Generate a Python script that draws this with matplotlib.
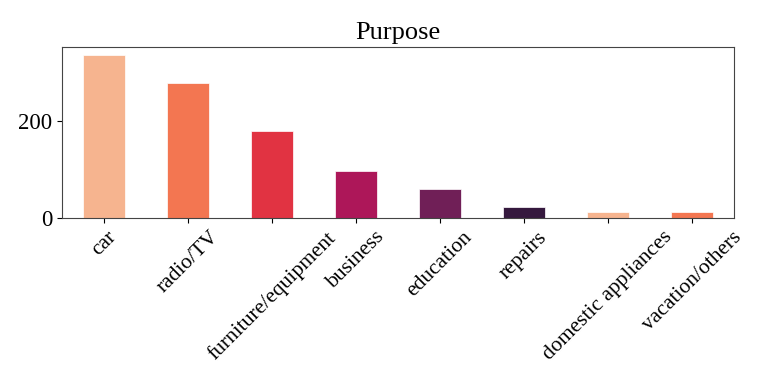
import matplotlib
matplotlib.use('Agg')
import matplotlib.pyplot as plt

categories = ['car', 'radio/TV', 'furniture/equipment', 'business', 'education',
              'repairs', 'domestic appliances', 'vacation/others']
counts = [337, 280, 181, 97, 59, 22, 12, 12]
palette = ['#f6b48f', '#f37651', '#e13342', '#ad1759', '#701f57', '#35193e']

plt.rcParams['font.family'] = ['Liberation Serif', 'DejaVu Serif']

fig = plt.figure(figsize=(7.72, 3.86), dpi=100)
ax = fig.add_axes([62 / 772, 1 - 218 / 386, (734 - 62) / 772, (218 - 47) / 386])

colors = [palette[i % len(palette)] for i in range(len(counts))]
x = list(range(len(categories)))
ax.bar(x, counts, width=0.5, color=colors, edgecolor='white', linewidth=0.5)
ax.set_xlim(-0.5, len(categories) - 0.5)
ax.set_ylim(0, max(counts) * 1.05)
ax.set_yticks([0, 200])
ax.set_xticks(x)
ax.set_xticklabels(categories, rotation=45, fontsize=15.5)
ax.tick_params(axis='y', labelsize=16.5)
ax.set_title('Purpose', fontsize=19)
for s in ax.spines.values():
    s.set_color('#444444')

fig.savefig('out.png', dpi=100)
